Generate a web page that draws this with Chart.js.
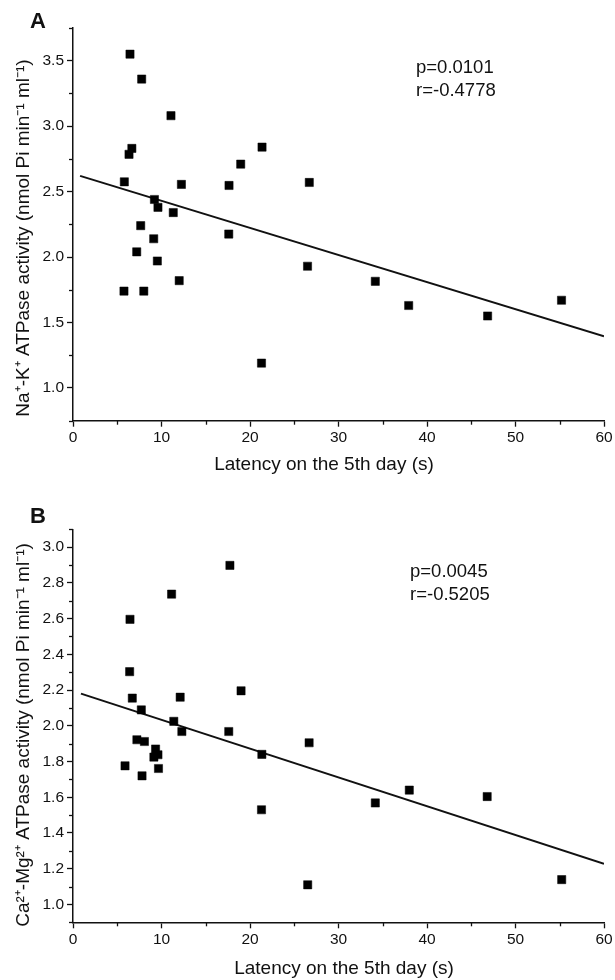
<!DOCTYPE html>
<html><head><meta charset="utf-8">
<script src="https://cdn.jsdelivr.net/npm/chart.js@4.4.0/dist/chart.umd.min.js"></script>
<style>
html,body{margin:0;padding:0;background:#fff;}
#wrap{width:615px;height:980px;position:relative;overflow:hidden;}
.pane{position:absolute;left:0;width:615px;height:490px;}
</style></head><body>
<div id="wrap">
<div class="pane" style="top:0"><canvas id="cA" width="615" height="490"></canvas></div>
<div class="pane" style="top:490px"><canvas id="cB" width="615" height="490"></canvas></div>
</div>
<script>
// ---- data ----
const latencyA = [5.8, 5.76, 6.33, 6.44, 6.65, 7.2, 7.65, 7.76, 8.0, 9.12, 9.2, 9.53, 9.6, 11.07, 11.33, 12.0, 12.25, 17.6, 17.63, 18.95, 21.3, 21.36, 26.5, 26.7, 34.16, 37.93, 46.85, 55.2];
const naKActivity = [2.575, 1.74, 2.785, 3.55, 2.83, 2.04, 2.24, 3.36, 1.74, 2.14, 2.44, 1.97, 2.38, 3.08, 2.34, 1.82, 2.555, 2.176, 2.547, 2.71, 1.19, 2.84, 1.93, 2.57, 1.815, 1.63, 1.55, 1.67];
const latencyB = [5.88, 6.44, 6.40, 6.70, 7.22, 7.72, 7.8, 8.07, 9.14, 9.33, 9.6, 9.66, 11.14, 11.39, 12.11, 12.3, 17.6, 17.73, 18.99, 21.3, 21.34, 26.52, 26.68, 34.16, 38.0, 46.8, 55.22];
const caMgActivity = [1.776, 2.596, 2.303, 2.155, 1.922, 2.089, 1.72, 1.912, 1.825, 1.87, 1.838, 1.761, 2.737, 2.025, 2.16, 1.968, 1.968, 2.898, 2.196, 1.53, 1.84, 1.11, 1.905, 1.568, 1.64, 1.604, 1.139];
const fitAx = [0.8, 60];
const fitAy = [2.62, 1.395];
const fitBx = [0.9, 60];
const fitBy = [2.18, 1.228];
const xTickLabels = [0, 10, 20, 30, 40, 50, 60];
const xMinorTicks = [5, 15, 25, 35, 45, 55];
const yTickLabelsA = [1.0, 1.5, 2.0, 2.5, 3.0, 3.5];
const yMinorTicksA = [0.75, 1.25, 1.75, 2.25, 2.75, 3.25, 3.75];
const yTickLabelsB = [1.0, 1.2, 1.4, 1.6, 1.8, 2.0, 2.2, 2.4, 2.6, 2.8, 3.0];
const yMinorTicksB = [0.9, 1.1, 1.3, 1.5, 1.7, 1.9, 2.1, 2.3, 2.5, 2.7, 2.9, 3.1];
const xTitle = 'Latency on the 5th day (s)';
const yTitleA = 'Na\u207A-K\u207A ATPase activity (nmol Pi min\u207B\u00B9 ml\u207B\u00B9)';
const yTitleB = 'Ca\u00B2\u207A-Mg\u00B2\u207A ATPase activity (nmol Pi min\u207B\u00B9 ml\u207B\u00B9)';
const statsA = ['p=0.0101', 'r=-0.4778'];
const statsB = ['p=0.0045', 'r=-0.5205'];

const FONT = "'Liberation Sans', Arial, Helvetica, sans-serif";
const INK = '#111';

const annotPlugin = {
  id: 'annot',
  afterDraw(chart, args, opts) {
    const ctx = chart.ctx;
    ctx.save();
    // minor ticks (shorter), positioned with the library's scales
    const xs = chart.scales.x, ys = chart.scales.y, ca = chart.chartArea;
    ctx.strokeStyle = INK; ctx.lineWidth = 1.3;
    opts.xMinor.forEach(v => {
      const px = Math.round(xs.getPixelForValue(v)) + 0.5;
      ctx.beginPath(); ctx.moveTo(px, ca.bottom); ctx.lineTo(px, ca.bottom + 4); ctx.stroke();
    });
    opts.yMinor.forEach(v => {
      const py = Math.round(ys.getPixelForValue(v)) + 0.5;
      ctx.beginPath(); ctx.moveTo(ca.left, py); ctx.lineTo(ca.left - 4, py); ctx.stroke();
    });
    ctx.fillStyle = INK;
    // axis titles
    ctx.textBaseline = 'middle';
    ctx.textAlign = 'center';
    ctx.font = '19px ' + FONT;
    ctx.fillText(opts.xTitle, opts.xTitleX, opts.xTitleY);
    ctx.save();
    ctx.translate(opts.yTitleX, opts.yTitleY);
    ctx.rotate(-Math.PI / 2);
    ctx.fillText(opts.yTitle, 0, 0);
    ctx.restore();
    // panel letter
    ctx.textBaseline = 'alphabetic';
    ctx.textAlign = 'left';
    ctx.font = 'bold 22px ' + FONT;
    ctx.fillText(opts.letter, opts.letterX, opts.letterY);
    // statistics text
    ctx.font = '18.5px ' + FONT;
    opts.lines.forEach((t, i) => ctx.fillText(t, opts.textX, opts.textY + i * opts.lineGap));
    ctx.restore();
  }
};

function makeChart(id, cfg) {
  const scatterPts = cfg.xs.map((x, i) => ({x: x, y: cfg.ys[i]}));
  const fitPts = cfg.fx.map((x, i) => ({x: x, y: cfg.fy[i]}));
  return new Chart(document.getElementById(id), {
    type: 'scatter',
    data: {
      datasets: [
        {data: fitPts, showLine: true, borderColor: INK, borderWidth: 2, pointRadius: 0, fill: false, order: 2},
        {data: scatterPts, pointStyle: 'rect', pointRadius: 5.8, backgroundColor: '#000', borderColor: '#000', borderWidth: 0.5, order: 1}
      ]
    },
    options: {
      responsive: false, animation: false, devicePixelRatio: 1,
      layout: {padding: {left: 0, right: 11, top: cfg.top, bottom: 0}},
      plugins: {
        legend: {display: false}, tooltip: {enabled: false},
        annot: {letter: cfg.letter, letterX: 30, letterY: cfg.letterY, lines: cfg.lines, textX: cfg.textX, textY: cfg.textY, lineGap: 23,
                xMinor: xMinorTicks, yMinor: cfg.yMinor,
                xTitle: xTitle, xTitleX: cfg.xTitleX, xTitleY: cfg.xTitleY,
                yTitle: cfg.yTitle, yTitleX: 23.5, yTitleY: cfg.yTitleY}
      },
      scales: {
        x: {
          type: 'linear', min: 0, max: 60,
          afterBuildTicks: s => { s.ticks = xTickLabels.map(v => ({value: v})); },
          afterFit: s => { s.height = cfg.xAxisH; },
          grid: {drawOnChartArea: false, drawTicks: true, tickLength: 6, tickColor: INK, tickWidth: 1.3},
          border: {display: true, color: INK, width: 1.5},
          ticks: {color: INK, font: {family: FONT, size: 15.5}, padding: 2, maxRotation: 0, autoSkip: false,
                  callback: v => String(v)},
          title: {display: false}
        },
        y: {
          type: 'linear', min: cfg.ymin, max: cfg.ymax,
          afterBuildTicks: s => { s.ticks = cfg.yMajor.map(v => ({value: v})); },
          afterFit: s => { s.width = 73; },
          grid: {drawOnChartArea: false, drawTicks: true, tickLength: 6, tickColor: INK, tickWidth: 1.3},
          border: {display: true, color: INK, width: 1.5},
          ticks: {color: INK, font: {family: FONT, size: 15.5}, padding: 3, autoSkip: false,
                  callback: v => Number(v).toFixed(1)},
          title: {display: false}
        }
      }
    },
    plugins: [annotPlugin]
  });
}

makeChart('cA', {
  xs: latencyA, ys: naKActivity, fx: fitAx, fy: fitAy,
  ymin: 0.75, ymax: 3.75, yMajor: yTickLabelsA, yMinor: yMinorTicksA, yTitle: yTitleA,
  top: 28, xAxisH: 69.3,
  xTitleX: 324, xTitleY: 465, yTitleY: 238,
  letter: 'A', letterY: 28, lines: statsA, textX: 416, textY: 73
});
makeChart('cB', {
  xs: latencyB, ys: caMgActivity, fx: fitBx, fy: fitBy,
  ymin: 0.9, ymax: 3.1, yMajor: yTickLabelsB, yMinor: yMinorTicksB, yTitle: yTitleB,
  top: 39.3, xAxisH: 57.7,
  xTitleX: 344, xTitleY: 479, yTitleY: 245,
  letter: 'B', letterY: 33, lines: statsB, textX: 410, textY: 87
});
</script>
</body></html>
